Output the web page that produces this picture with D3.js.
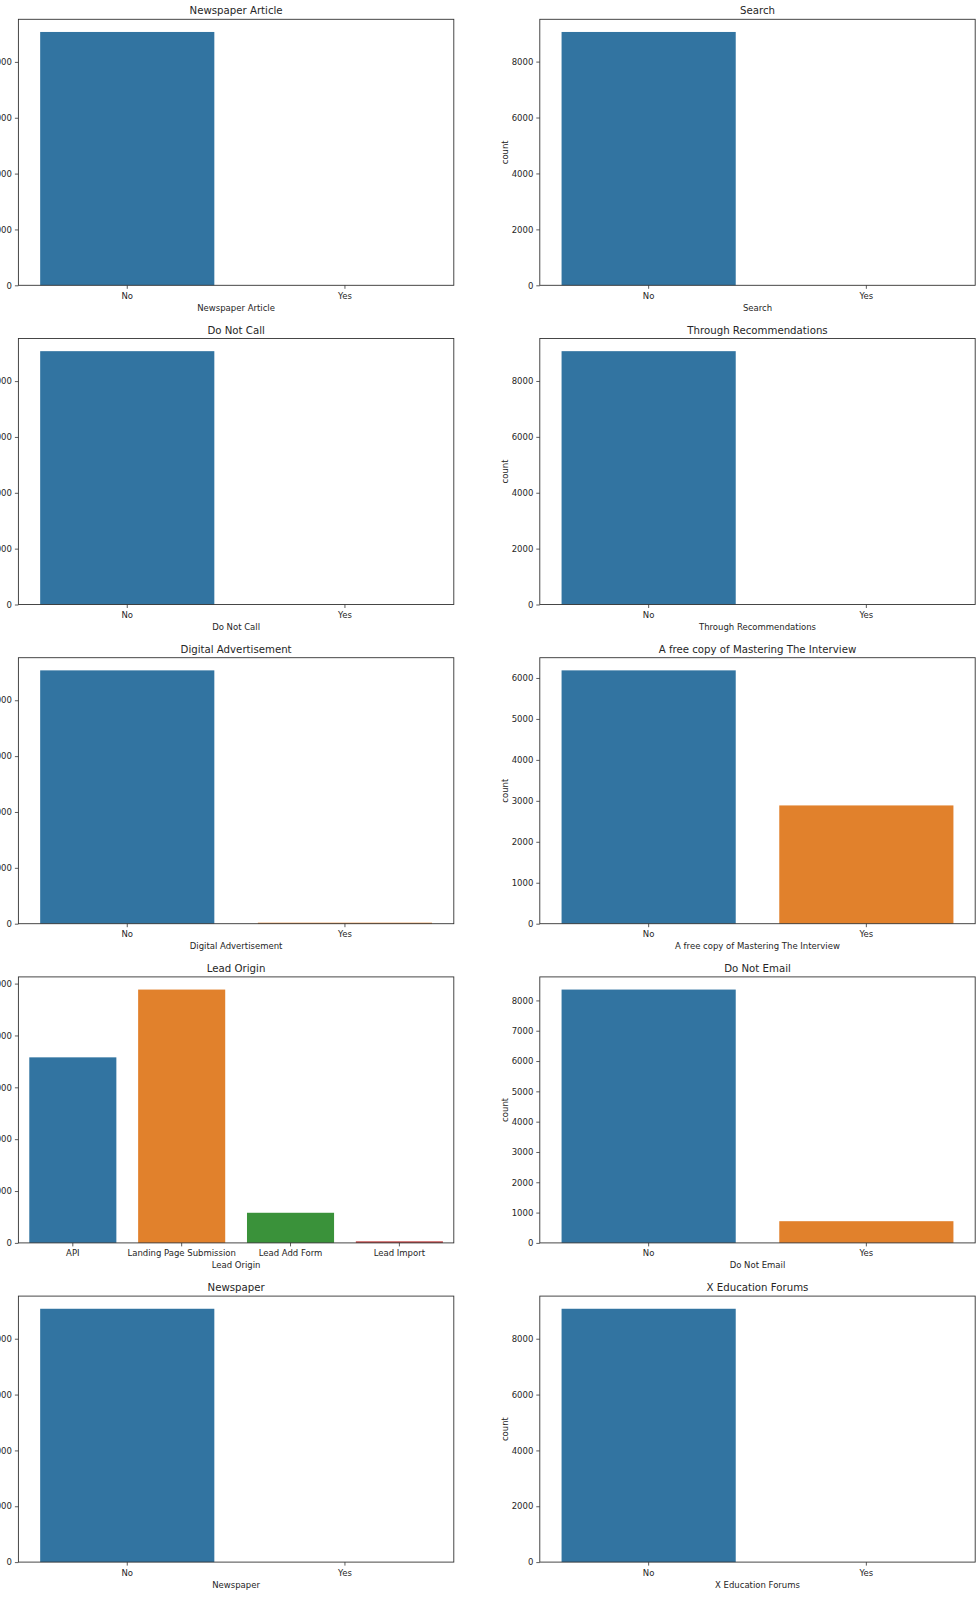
<!DOCTYPE html>
<html>
<head>
<meta charset="utf-8">
<script src="https://cdn.jsdelivr.net/npm/d3@7"></script>
<style>
  html, body { margin: 0; padding: 0; background: #fff; }
  svg { display: block; }
  text { font-family: "DejaVu Sans", sans-serif; fill: #262626; }
</style>
</head>
<body>
<script>
// ---------- data ----------
const titles = [
  "Newspaper Article", "Search",
  "Do Not Call", "Through Recommendations",
  "Digital Advertisement", "A free copy of Mastering The Interview",
  "Lead Origin", "Do Not Email",
  "Newspaper", "X Education Forums"
];
const categoriesYesNo = ["No", "Yes"];
const categoriesLeadOrigin = ["API", "Landing Page Submission", "Lead Add Form", "Lead Import"];

const countsNewspaperArticle = [9072, 2];
const countsSearch = [9060, 2];
const countsDoNotCall = [9072, 2];
const countsThroughRecommendations = [9067, 2];
const countsDigitalAdvertisement = [9070, 36];
const countsFreeCopy = [6186, 2888];
const countsLeadOrigin = [3578, 4885, 581, 30];
const countsDoNotEmail = [8358, 716];
const countsNewspaper = [9073, 1];
const countsXEducationForums = [9073, 1];

const ticksBy2000 = [0, 2000, 4000, 6000, 8000];
const ticksLeadOrigin = [0, 1000, 2000, 3000, 4000, 5000];
const ticksFreeCopy = [0, 1000, 2000, 3000, 4000, 5000, 6000];
const ticksDoNotEmail = [0, 1000, 2000, 3000, 4000, 5000, 6000, 7000, 8000];

const palette = ["#3274a1", "#e1812c", "#3a923a", "#c03d3e"];

const panelCategories = [
  categoriesYesNo, categoriesYesNo, categoriesYesNo, categoriesYesNo,
  categoriesYesNo, categoriesYesNo, categoriesLeadOrigin, categoriesYesNo,
  categoriesYesNo, categoriesYesNo
];
const panelCounts = [
  countsNewspaperArticle, countsSearch, countsDoNotCall, countsThroughRecommendations,
  countsDigitalAdvertisement, countsFreeCopy, countsLeadOrigin, countsDoNotEmail,
  countsNewspaper, countsXEducationForums
];
const panelTicks = [
  ticksBy2000, ticksBy2000, ticksBy2000, ticksBy2000,
  ticksBy2000, ticksFreeCopy, ticksLeadOrigin, ticksDoNotEmail,
  ticksBy2000, ticksBy2000
];

// ---------- layout ----------
const W = 980, H = 1601;
const colX = [18.4, 539.8];
const top0 = 19.3, rowPitch = 319.2;
const pw = 435.4, ph = 266;

const svg = d3.select("body").append("svg")
  .attr("width", W).attr("height", H);
svg.append("rect").attr("width", W).attr("height", H).attr("fill", "#fff");

titles.forEach((title, i) => {
  const col = i % 2, row = Math.floor(i / 2);
  const cats = panelCategories[i];
  const counts = panelCounts[i];
  const data = cats.map((c, k) => ({ cat: c, value: counts[k], k }));

  const g = svg.append("g")
    .attr("transform", `translate(${colX[col]},${top0 + row * rowPitch})`);

  const x = d3.scaleBand().domain(cats).range([0, pw])
    .paddingInner(0.2).paddingOuter(0.1);
  const y = d3.scaleLinear().domain([0, d3.max(counts) * 1.05]).range([ph, 0]);

  g.selectAll("rect.bar").data(data).enter().append("rect")
    .attr("class", "bar")
    .attr("x", d => x(d.cat))
    .attr("width", x.bandwidth())
    .attr("y", d => y(d.value))
    .attr("height", d => ph - y(d.value))
    .attr("fill", d => palette[d.k % palette.length]);

  // axes
  const xa = g.append("g").attr("transform", `translate(0,${ph})`)
    .call(d3.axisBottom(x).tickSize(3.5).tickPadding(4));
  const ya = g.append("g")
    .call(d3.axisLeft(y).tickValues(panelTicks[i]).tickSize(3.5).tickPadding(3)
      .tickFormat(d3.format("d")));
  [xa, ya].forEach(a => {
    a.select(".domain").remove();
    a.selectAll(".tick line").attr("stroke", "#333").attr("stroke-width", 0.8);
    a.selectAll(".tick text").style("font-family", "DejaVu Sans")
      .style("font-size", "8.5px").attr("fill", "#262626");
  });

  // frame (spines)
  g.append("rect")
    .attr("x", 0).attr("y", 0).attr("width", pw).attr("height", ph)
    .attr("fill", "none").attr("stroke", "#333").attr("stroke-width", 0.9);

  // title
  g.append("text")
    .attr("x", pw / 2).attr("y", -5)
    .attr("text-anchor", "middle")
    .style("font-size", "10.2px")
    .text(title);

  // x label
  g.append("text")
    .attr("x", pw / 2).attr("y", ph + 25.5)
    .attr("text-anchor", "middle")
    .style("font-size", "8.5px")
    .text(title);

  // y label (only the right column's label lies inside the visible picture)
  if (col === 1) {
    g.append("text")
      .attr("transform", `translate(-31.5,${ph / 2}) rotate(-90)`)
      .attr("text-anchor", "middle")
      .style("font-size", "8.5px")
      .text("count");
  }
});
</script>
</body>
</html>
